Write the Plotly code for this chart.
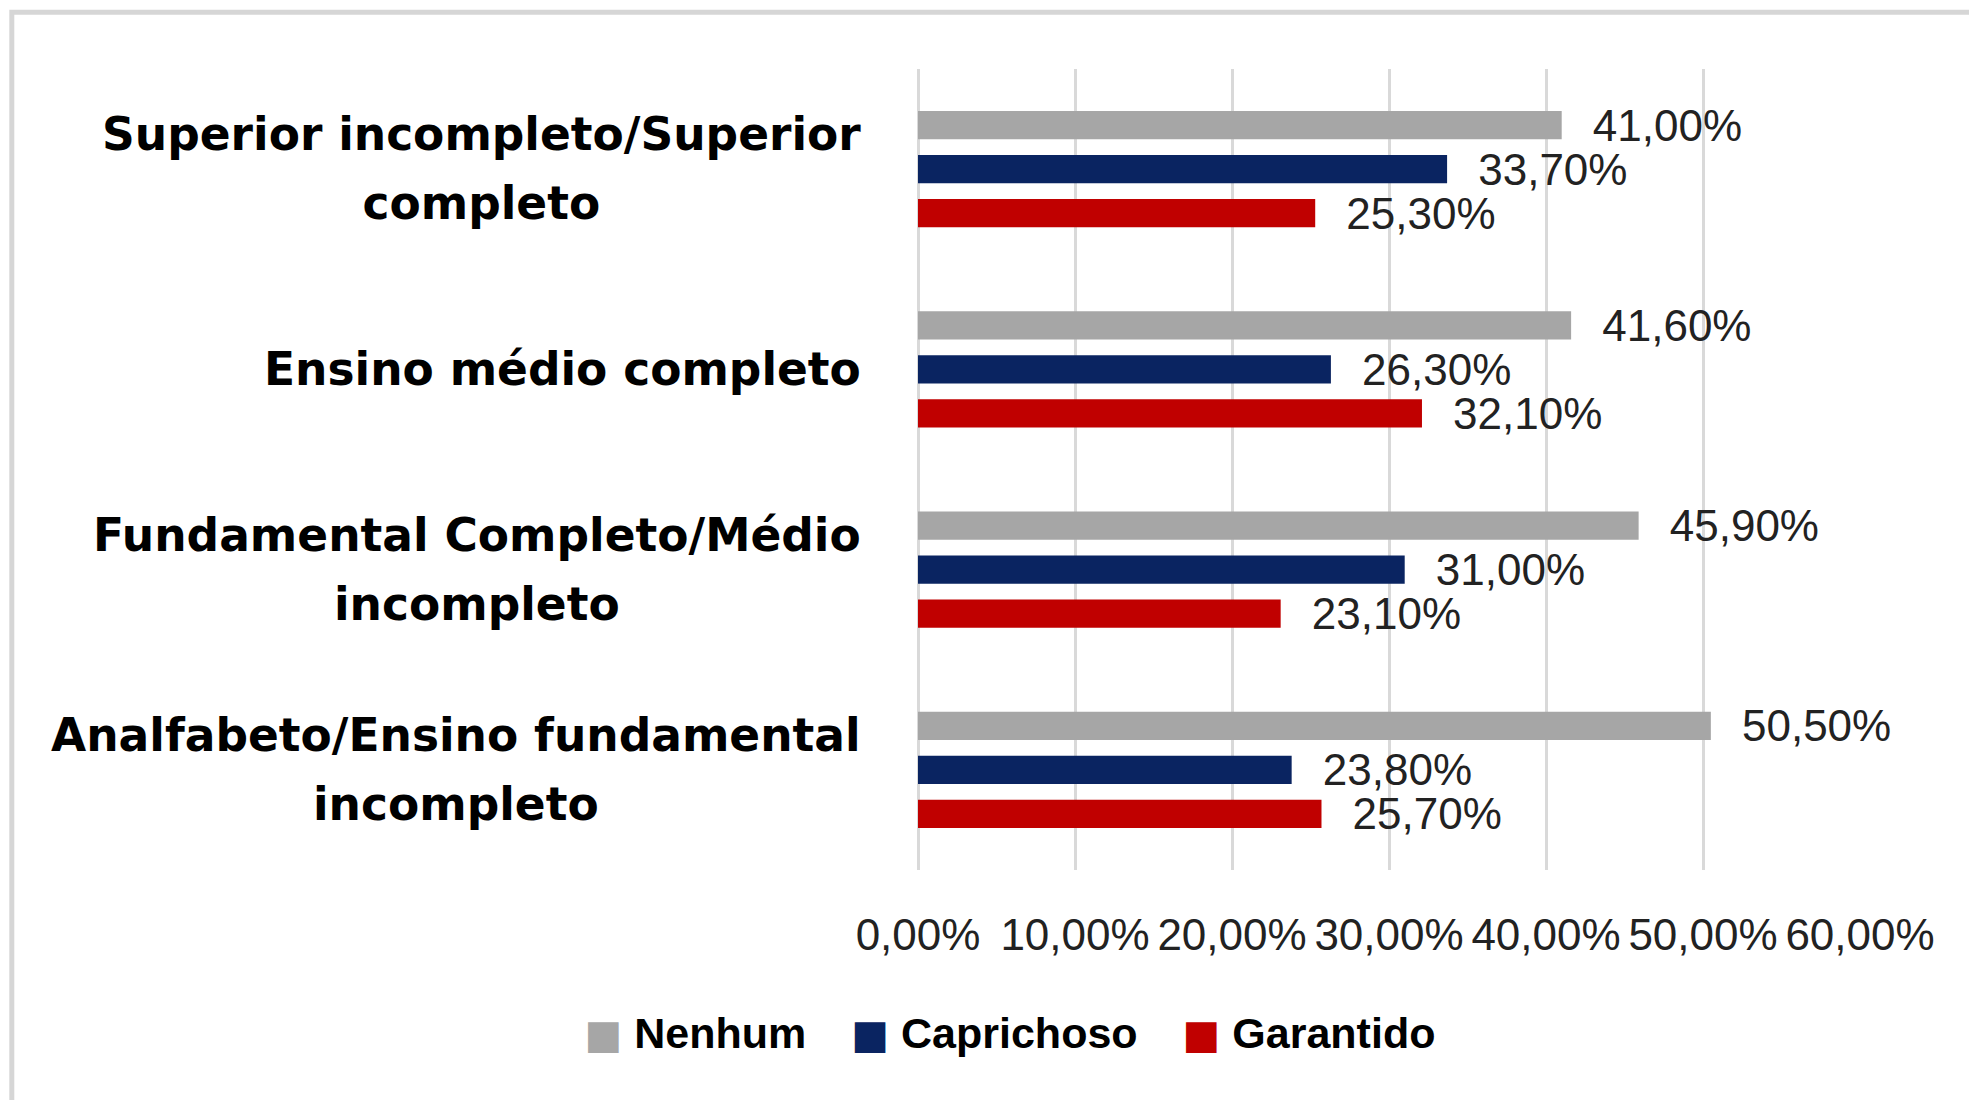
import plotly.graph_objects as go

# categories bottom -> top (as drawn)
categories = [
    "Analfabeto/Ensino fundamental<br>incompleto",
    "Fundamental Completo/Médio<br>incompleto",
    "Ensino médio completo",
    "Superior incompleto/Superior<br>completo",
]
nenhum = [50.5, 45.9, 41.6, 41.0]
caprichoso = [23.8, 31.0, 26.3, 33.7]
garantido = [25.7, 23.1, 32.1, 25.3]

series_names = ["Nenhum", "Caprichoso", "Garantido"]
series_colors = ["#A6A6A6", "#0A2461", "#C00000"]
x_ticks = [0, 10, 20, 30, 40, 50, 60]
x_tick_labels = ["0,00%", "10,00%", "20,00%", "30,00%", "40,00%", "50,00%", "60,00%"]

label_font = dict(family="Liberation Sans", size=44, color="#222222")

fig = go.Figure()

# plotly puts the first trace at the bottom of each group for horizontal bars,
# so add them reversed to get Nenhum on top
for name, vals, col in reversed(list(zip(series_names, [nenhum, caprichoso, garantido], series_colors))):
    fig.add_trace(go.Bar(
        y=categories, x=vals, name=name, orientation="h",
        marker=dict(color=col, line=dict(width=0)),
        texttemplate="\u00a0\u00a0\u200a%{x:.2f}%", textposition="outside",
        textfont=label_font, constraintext="none", cliponaxis=False,
        showlegend=False,
    ))

# legend entries with big squares drawn as text glyphs
for name, col in zip(series_names, series_colors):
    fig.add_trace(go.Scatter(
        x=[None], y=[None], mode="lines",
        name=f"<span style='color:{col};font-family:DejaVu Sans;font-size:40px'>■</span>\u00a0{name}",
        line=dict(width=0, color="rgba(0,0,0,0)"), showlegend=True,
    ))

# category labels: big base size for wider line spacing, smaller inner span
for cat in categories:
    fig.add_annotation(
        x=0, xref="paper", y=cat, yref="y", xshift=-55,
        text=f"<span style='font-size:45.5px'>{cat}</span>", showarrow=False,
        xanchor="right", yanchor="middle", align="center",
        font=dict(family="DejaVu Sans", size=53, color="#000000", weight="bold"),
    )

# light frame around the chart
fig.add_shape(type="rect", xref="paper", yref="paper",
              x0=-0.962, x1=1.3, y0=-0.5, y1=1.071,
              line=dict(color="#D6D6D6", width=5), fillcolor="rgba(0,0,0,0)", layer="below")

fig.update_layout(
    width=1977, height=1100,
    margin=dict(l=910, r=125, t=61, b=238),
    paper_bgcolor="white", plot_bgcolor="white",
    separators=",.",
    barmode="group", bargap=0.34, bargroupgap=0.36,
    showlegend=True,
    legend=dict(orientation="h", xref="container", yref="container",
                x=0.498, y=0.07, xanchor="center", yanchor="middle",
                font=dict(family="Liberation Sans", size=43, color="#000000", weight="bold"),
                itemwidth=30),
)
fig.update_xaxes(range=[0, 60], tickvals=x_ticks, ticktext=x_tick_labels,
                 showgrid=True, gridcolor="#D9D9D9", gridwidth=3,
                 zeroline=True, zerolinecolor="#D9D9D9", zerolinewidth=3,
                 showline=False, ticks="", ticklabelstandoff=35,
                 tickfont=label_font, fixedrange=True)
fig.update_yaxes(showticklabels=False, showgrid=False, ticks="", showline=False)

fig.write_html("out.html")
